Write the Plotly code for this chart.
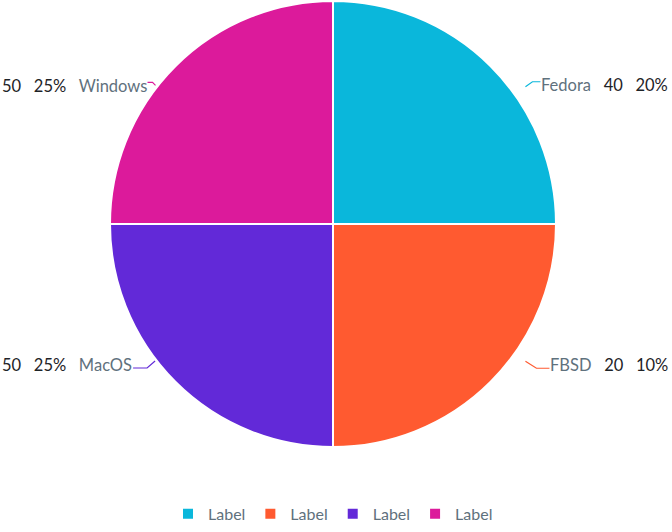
import math
import plotly.graph_objects as go

# dados do grafico
nomes = ["Fedora", "FBSD", "MacOS", "Windows"]
valores = [40, 20, 50, 50]
porcentagens = [20, 10, 25, 25]
pesos_fatias = [1, 1, 1, 1]
legenda = ["Label", "Label\u200b", "Label\u200b\u200b", "Label\u200b\u200b\u200b"]
cores = ["#0ab7db", "#ff5a30", "#6229d8", "#dc1a9b"]

W, H = 672, 532
margem = dict(l=0, r=6, t=1, b=85)
plot_w = W - margem["l"] - margem["r"]
plot_h = H - margem["t"] - margem["b"]
raio = min(plot_w, plot_h) / 2

fig = go.Figure(go.Pie(
    labels=legenda,
    values=pesos_fatias,
    sort=False,
    direction="clockwise",
    rotation=0,
    marker=dict(colors=cores, line=dict(color="white", width=2)),
    textinfo="none",
    hoverinfo="skip",
))

# geometria das linhas guia por quadrante (sinal x, sinal y)
guia = {
    (1, 1): dict(r=1.06, ang=35.5, dx=7, dy=5, h=8),
    (1, -1): dict(r=1.06, ang=35.5, dx=11, dy=7, h=13),
    (-1, -1): dict(r=1.007, ang=37.6, dx=8, dy=7, h=14),
    (-1, 1): dict(r=1.01, ang=38, dx=3, dy=3, h=5),
}


def px(dx):
    return 0.5 + dx / plot_w


def py(dy):
    return 0.5 + dy / plot_h


# rotulos externos com linhas guia
annotations = []
shapes = []
total = sum(pesos_fatias)
acum = 0
for nome, val, pct, peso, cor in zip(nomes, valores, porcentagens, pesos_fatias, cores):
    meio = math.radians(90 - 360 * (acum + peso / 2) / total)
    acum += peso
    sx = 1 if math.cos(meio) > 0 else -1
    sy = 1 if math.sin(meio) > 0 else -1
    g = guia[(sx, sy)]
    ang = math.radians(g["ang"])
    x0 = sx * raio * g["r"] * math.cos(ang)
    y0 = sy * raio * g["r"] * math.sin(ang)
    x1, y1 = x0 + sx * g["dx"], y0 + sy * g["dy"]
    x2 = x1 + sx * g["h"]

    shapes.append(dict(
        type="path", xref="paper", yref="paper",
        path=f"M{px(x0)},{py(y0)} L{px(x1)},{py(y1)} L{px(x2)},{py(y1)}",
        line=dict(color=cor, width=1.2),
    ))
    nome_txt = f"<span style='color:#5f717d'>{nome}</span>"
    if sx > 0:
        texto = f"{nome_txt}   {val}   {pct}%"
    else:
        texto = f"{val}   {pct}%   {nome_txt}"
    annotations.append(dict(
        x=px(x2 - sx * 1), y=py(y1 - sy * 3.5), xref="paper", yref="paper",
        text=texto, showarrow=False,
        xanchor="left" if sx > 0 else "right", yanchor="middle",
        font=dict(family="Lato", size=16.5, color="#1e2327"),
    ))

fig.update_layout(
    width=W,
    height=H,
    margin=margem,
    paper_bgcolor="white",
    plot_bgcolor="white",
    font=dict(family="Lato", size=16, color="#5f717d"),
    showlegend=True,
    legend=dict(
        orientation="h", x=0.5, xanchor="center", y=-0.15, yanchor="middle",
        font=dict(family="Lato", size=16, color="#5f717d"),
        itemsizing="constant",
    ),
    annotations=annotations,
    shapes=shapes,
)

# tirar a margem do body para o grafico ficar no canto da janela
fig.write_html(
    "out.html",
    config={"displayModeBar": False},
    post_script="document.body.style.margin='0px';",
)
